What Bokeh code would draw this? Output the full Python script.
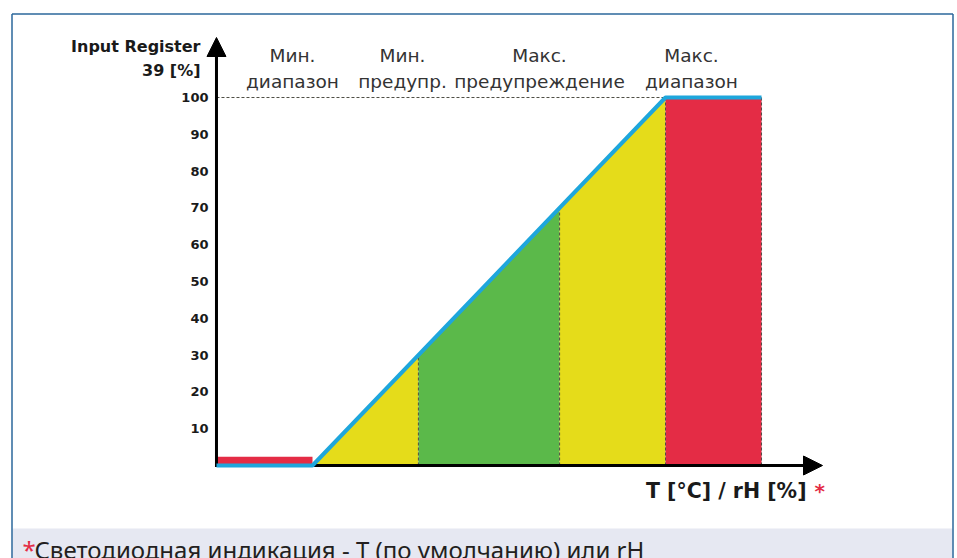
import numpy as np
from bokeh.plotting import figure
from bokeh.models import Range1d, Arrow, NormalHead
from bokeh.core.properties import value
from bokeh.embed import file_html
from bokeh.resources import INLINE

# ---------------- data ----------------
zone_labels = ["Мин.\nдиапазон", "Мин.\nпредупр.", "Макс.\nпредупреждение", "Макс.\nдиапазон"]
zone_edges = [-27.2, 0, 30, 70, 100, 127.2]          # T / rH scale (0 = min range, 100 = max range)
zone_colors = ["#e5dc1a", "#5bb94a", "#e5dc1a", "#e42c45"]   # zones between edges[1..5]
register_x = [-27.2, 0, 100, 127.2]
register_y = [0, 0, 100, 100]                         # Input Register 39 [%]
low_alarm_height = 2.4
y_ticks = [10, 20, 30, 40, 50, 60, 70, 80, 90, 100]
y_title = "Input Register\n39 [%]"
x_title = "T [°C] / rH [%]"
footer = "Светодиодная индикация - T (по умолчанию) или rH"

# ---------------- layout ----------------
W, H = 957, 558
OFF = 0
X0, XS = 312.0, 3.53
Y0, YS = 465.0, 3.68


def px2x(px):
    return (px - X0) / XS


def py2y(py):
    return (Y0 - py) / YS


p = figure(width=W, height=H,
           x_range=Range1d(px2x(OFF), px2x(OFF + W)),
           y_range=Range1d(py2y(OFF + H), py2y(OFF)),
           output_backend="svg", toolbar_location=None,
           min_border=0, x_axis_type=None, y_axis_type=None,
           outline_line_color=None, background_fill_color="white",
           border_fill_color="white")
p.grid.visible = False

BLUE_FRAME = "#2b679b"
RED = "#e42c45"
DASH = "#4f4f45"

# footer band
p.quad(left=[px2x(12)], right=[px2x(952)], top=[py2y(528)], bottom=[py2y(600)],
       fill_color="#e6e8f2", line_color=None)
# outer frame
p.multi_line(xs=[[px2x(11.5), px2x(11.5)], [px2x(11.5), px2x(952.5)], [px2x(952.5), px2x(952.5)]],
             ys=[[py2y(600), py2y(13.5)], [py2y(13.5), py2y(13.5)], [py2y(13.5), py2y(600)]],
             line_color=BLUE_FRAME, line_width=1.5)

# filled zones under the register curve
edges = np.array(zone_edges)


def f(x):
    return float(np.interp(x, register_x, register_y))


xs, ys = [], []
for i in range(1, len(edges) - 1):
    a, b = edges[i], edges[i + 1]
    xs.append([a, a, b, b])
    ys.append([0, f(a), f(b), 0])
p.patches(xs=xs, ys=ys, fill_color=zone_colors, line_color=None)
# low alarm bar
p.quad(left=[edges[0]], right=[edges[1]], bottom=[0], top=[low_alarm_height],
       fill_color=RED, line_color=None)

# dashed guide lines
p.segment(x0=[edges[0]], y0=[100], x1=[edges[4]], y1=[100],
          line_color=DASH, line_width=1, line_dash="3 2")
p.segment(x0=list(edges[1:]), y0=[0] * (len(edges) - 1), x1=list(edges[1:]),
          y1=[f(e) if e <= 100 else 100 for e in edges[1:]],
          line_color=DASH, line_width=1, line_dash="3 2")

# axes lines
x_tip = px2x(822)
y_tip = py2y(37)
p.segment(x0=[edges[0], edges[0]], y0=[0, py2y(466.5)], x1=[x_tip - 4, edges[0]], y1=[0, y_tip - 4],
          line_color="black", line_width=3)

# register curve
p.line(register_x, register_y, line_color="#1ea6dc", line_width=4)

# arrow heads
p.add_layout(Arrow(end=NormalHead(size=19, fill_color="black", line_color="black"),
                   x_start=x_tip - 6, y_start=0, x_end=x_tip, y_end=0,
                   line_color="black", line_width=3))
p.add_layout(Arrow(end=NormalHead(size=19, fill_color="black", line_color="black"),
                   x_start=edges[0], y_start=y_tip - 6, x_end=edges[0], y_end=y_tip,
                   line_color="black", line_width=3))

# tick labels
p.text(x=[px2x(208)] * len(y_ticks), y=y_ticks, text=[str(t) for t in y_ticks],
       text_font=value("DejaVu Sans"), text_font_style="bold", text_font_size="13px",
       text_align="right", text_baseline="middle", text_color="#1a1a1a")

# axis titles
p.text(x=[px2x(200)], y=[py2y(58)], text=[y_title],
       text_font=value("DejaVu Sans"), text_font_style="bold", text_font_size="16px",
       text_align="right", text_baseline="middle", text_line_height=1.25, text_color="#1a1a1a")
p.text(x=[px2x(806)], y=[py2y(490)], text=[x_title],
       text_font=value("DejaVu Sans"), text_font_style="bold", text_font_size="20.5px",
       text_align="right", text_baseline="middle", text_color="#1a1a1a")
p.text(x=[px2x(814)], y=[py2y(490)], text=["*"],
       text_font=value("DejaVu Sans"), text_font_style="bold", text_font_size="20px",
       text_align="left", text_baseline="middle", text_color=RED)

# zone labels
label_px = [292, 402, 539, 691]
p.text(x=[px2x(v) for v in label_px], y=[py2y(68)] * 4, text=zone_labels,
       text_font=value("DejaVu Sans"), text_font_size="18.5px",
       text_align="center", text_baseline="middle", text_line_height=1.2, text_color="#333333")

# footer
p.text(x=[px2x(22)], y=[py2y(549)], text=["*"],
       text_font=value("Noto Sans"), text_font_size="24px",
       text_align="left", text_baseline="middle", text_color=RED)
p.text(x=[px2x(34)], y=[py2y(549)], text=[footer],
       text_font=value("Noto Sans"), text_font_size="24px",
       text_align="left", text_baseline="middle", text_color="#231f20")

open("out.html", "w").write(file_html(p, INLINE))
